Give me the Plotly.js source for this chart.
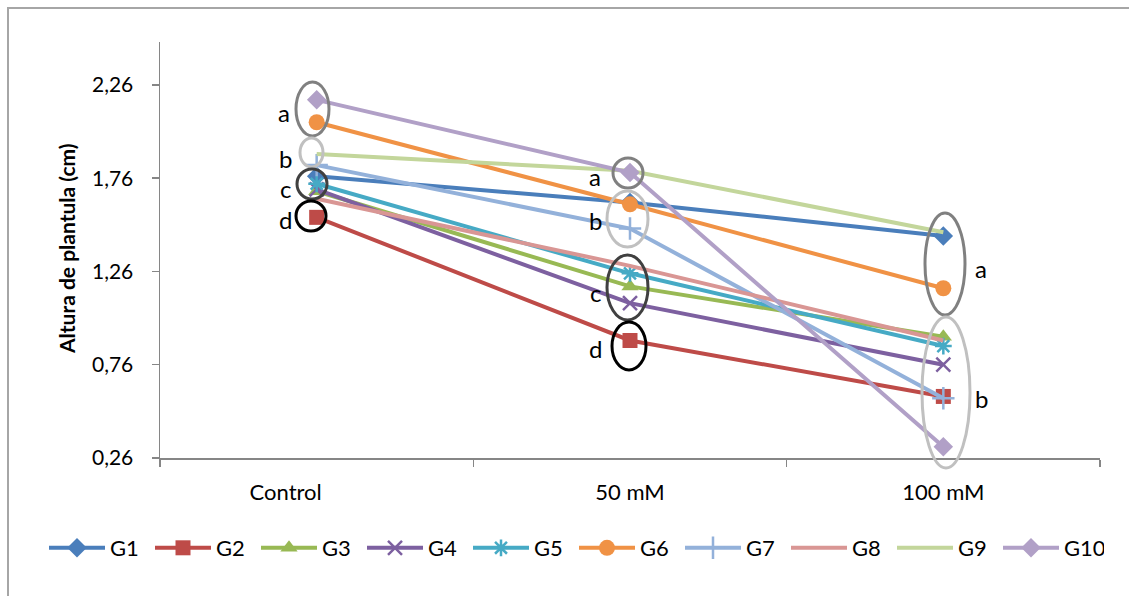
<!DOCTYPE html>
<html>
<head>
<meta charset="utf-8">
<script src="https://cdn.plot.ly/plotly-3.0.1.min.js"></script>
<style>html,body{margin:0;padding:0;background:#fff;}</style>
</head>
<body>
<div id="chart" style="width:1129px;height:596px;"></div>
<script>
// ---- data ----
const categories = ["Control", "50 mM", "100 mM"];
const categoryLabels = ["Control\u00a0\u00a0\u00a0\u00a0\u00a0\u00a0\u00a0\u00a0\u00a0\u00a0\u00a0", "50 mM", "100 mM"];
const seriesNames = ["G1","G2","G3","G4","G5","G6","G7","G8","G9","G10"];
const G1  = [1.77, 1.63, 1.45];
const G2  = [1.55, 0.89, 0.59];
const G3  = [1.69, 1.18, 0.91];
const G4  = [1.70, 1.09, 0.76];
const G5  = [1.73, 1.25, 0.86];
const G6  = [2.06, 1.62, 1.17];
const G7  = [1.83, 1.49, 0.58];
const G8  = [1.65, 1.29, 0.89];
const G9  = [1.89, 1.80, 1.47];
const G10 = [2.18, 1.79, 0.32];
const yTickVals = [0.26, 0.76, 1.26, 1.76, 2.26];
const yTickText = ["0,26", "0,76", "1,26", "1,76", "2,26"];
const yTitle = "Altura de plantula (cm)";
const groupLetters = [
  {cat: "Control", letters: ["a","b","c","d"]},
  {cat: "50 mM",   letters: ["a","b","c","d"]},
  {cat: "100 mM",  letters: ["a","b"]}
];

// ---- styles ----
const seriesValues = [G1,G2,G3,G4,G5,G6,G7,G8,G9,G10];
const colors = ["#4A7EBB","#BE4B48","#98B954","#7D60A0","#46AAC5","#F09245","#93B1DA","#D99694","#C3D69B","#B1A0C7"];
const symbols = ["diamond","square","triangle-up","x-thin-open","asterisk-open","circle","cross-thin-open",null,null,"diamond"];
const sizes = [15,15,15,14,14,16,16,0,0,15];

const W = 1129, H = 596, ML = 160, MR = 29, MT = 42, MB = 138;
const PW = W - ML - MR, PH = H - MT - MB;
function px2x(px){ return (px - ML) / PW; }
function px2y(py){ return (H - MB - py) / PH; }

const traces = seriesValues.map((vals, i) => {
  const t = {
    type: "scatter",
    x: categories,
    y: vals,
    name: seriesNames[i],
    mode: symbols[i] ? "lines+markers" : "lines",
    line: {color: colors[i], width: 4},
    cliponaxis: false
  };
  if (symbols[i]) {
    const thin = symbols[i].indexOf("open") >= 0;
    t.marker = {
      symbol: symbols[i],
      size: sizes[i],
      color: colors[i],
      line: {color: colors[i], width: thin ? 2.5 : 0}
    };
  }
  return t;
});

// ellipses (pixel geometry converted to paper coords)
const ellipseDefs = [
  // Control
  {x0:296,x1:329,y0:82,y1:136,c:"#808080"},
  {x0:300,x1:323,y0:138,y1:167,c:"#C0C0C0"},
  {x0:297,x1:327,y0:169,y1:199,c:"#404040"},
  {x0:296,x1:326,y0:201,y1:231,c:"#000000"},
  // 50 mM
  {x0:613,x1:643,y0:158,y1:188,c:"#808080"},
  {x0:607,x1:648,y0:191,y1:247,c:"#C0C0C0"},
  {x0:607,x1:648,y0:255,y1:320,c:"#404040"},
  {x0:612,x1:646,y0:322,y1:370,c:"#000000"},
  // 100 mM
  {x0:925,x1:965,y0:213,y1:315,c:"#808080"},
  {x0:922,x1:970,y0:317,y1:468,c:"#C0C0C0"}
];
const shapes = ellipseDefs.map(e => ({
  type: "circle", xref: "paper", yref: "paper",
  x0: px2x(e.x0), x1: px2x(e.x1), y0: px2y(e.y1), y1: px2y(e.y0),
  line: {color: e.c, width: 3}, fillcolor: "rgba(0,0,0,0)"
}));
// outer frame (left and top edges)
shapes.push({type:"line", xref:"paper", yref:"paper", x0:px2x(8), x1:px2x(8), y0:px2y(7), y1:px2y(600), line:{color:"#A6A6A6", width:2}});
shapes.push({type:"line", xref:"paper", yref:"paper", x0:px2x(7), x1:px2x(1135), y0:px2y(8), y1:px2y(8), line:{color:"#A6A6A6", width:2}});

const letterPos = {
  "Control": [[284,113],[285,158],[285,188],[285,219]],
  "50 mM":   [[595,177],[595,220],[595,292],[595,348]],
  "100 mM":  [[981,268],[981,398]]
};
const annotations = [];
groupLetters.forEach(g => {
  g.letters.forEach((L, k) => {
    const p = letterPos[g.cat][k];
    annotations.push({
      xref:"paper", yref:"paper", x: px2x(p[0]), y: px2y(p[1]),
      text: L, showarrow:false, xanchor:"center", yanchor:"middle",
      font:{family:"Lato, sans-serif", size:24, color:"#000"}
    });
  });
});
// y axis title (rotated text)
annotations.push({
  xref:"paper", yref:"paper", x: px2x(66), y: px2y(249),
  text: "<b>" + yTitle + "</b>", textangle: -90, showarrow:false,
  xanchor:"center", yanchor:"middle",
  font:{family:"Lato, sans-serif", size:21, color:"#000"}
});

const layout = {
  width: W, height: H,
  margin: {l: ML, r: MR, t: MT, b: MB, pad: 0},
  paper_bgcolor: "#fff", plot_bgcolor: "#fff",
  font: {family: "Lato, sans-serif", color: "#000"},
  showlegend: true,
  legend: {
    orientation: "h", x: px2x(44), y: px2y(548), xanchor: "left", yanchor: "middle",
    font: {size: 22, family: "Lato, sans-serif", color: "#000"},
    itemwidth: 56, entrywidth: 35, traceorder: "normal", itemclick: false
  },
  xaxis: {
    type: "category", range: [-0.5, 2.5], fixedrange: true,
    tickmode: "array", tickvals: categories, ticktext: categoryLabels,
    showline: true, linecolor: "#868686", linewidth: 1.5,
    ticks: "outside", tickson: "boundaries", ticklen: 7, tickcolor: "#868686", tickwidth: 1.5,
    showgrid: false, zeroline: false,
    tickfont: {size: 22, family: "Lato, sans-serif", color: "#000"},
    ticklabelstandoff: 14
  },
  yaxis: {
    range: [0.26, 2.49], fixedrange: true,
    tickvals: yTickVals, ticktext: yTickText,
    showline: true, linecolor: "#868686", linewidth: 1.5,
    ticks: "outside", ticklen: 7, tickcolor: "#868686", tickwidth: 1.5,
    showgrid: false, zeroline: false,
    tickfont: {size: 21, family: "Lato, sans-serif", color: "#000"},
    ticklabelstandoff: 14
  },
  shapes: shapes,
  annotations: annotations
};

Plotly.newPlot("chart", traces, layout, {displayModeBar: false, staticPlot: true});
</script>
</body>
</html>
